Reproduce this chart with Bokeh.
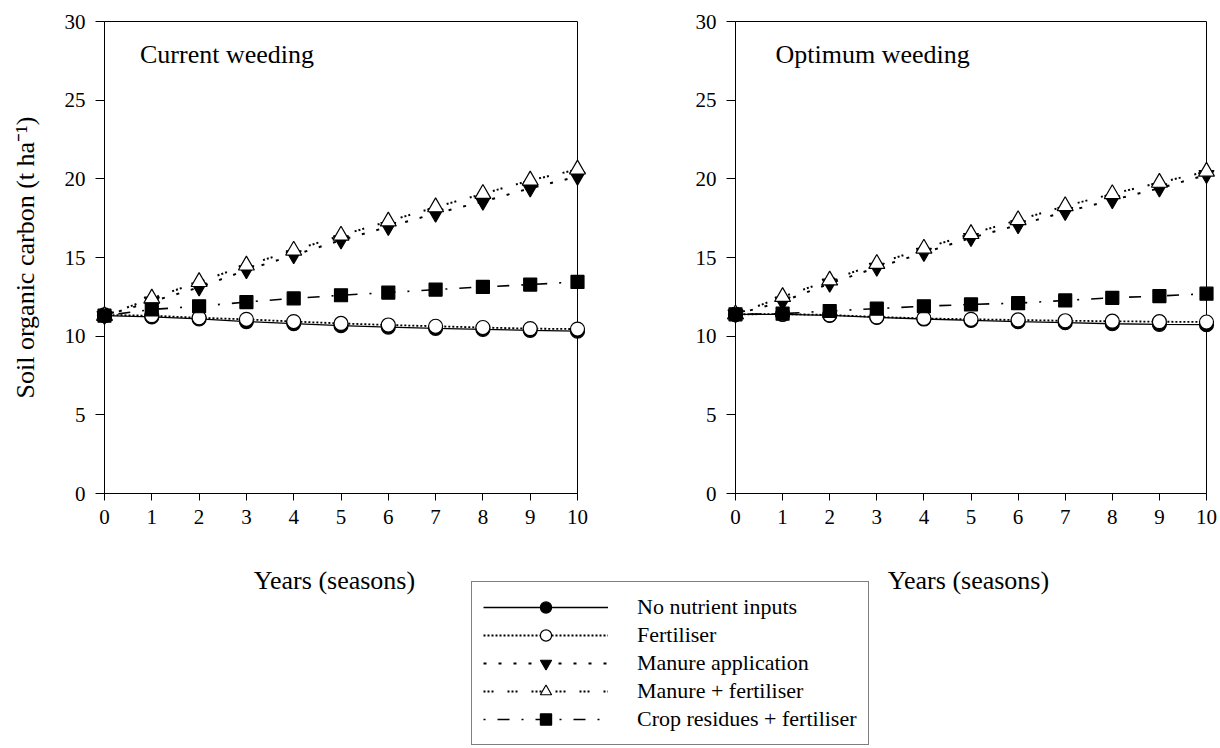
from bokeh.plotting import figure
from bokeh.layouts import column, row
from bokeh.models import Range1d, Label, Legend, LegendItem, FixedTicker
from bokeh.embed import file_html
from bokeh.resources import INLINE

# ---------------- data ----------------
years = [0, 1, 2, 3, 4, 5, 6, 7, 8, 9, 10]
x_ticks = [0, 1, 2, 3, 4, 5, 6, 7, 8, 9, 10]
y_ticks = [0, 5, 10, 15, 20, 25, 30]

series_names = ["No nutrient inputs", "Fertiliser", "Manure application",
                "Manure + fertiliser", "Crop residues + fertiliser"]

# Current weeding
cw_none = [11.30, 11.22, 11.10, 10.93, 10.80, 10.67, 10.58, 10.50, 10.43, 10.37, 10.32]
cw_fert = [11.35, 11.30, 11.17, 11.07, 10.93, 10.81, 10.71, 10.63, 10.55, 10.48, 10.45]
cw_manure = [11.30, 12.20, 13.10, 14.20, 15.15, 16.10, 16.95, 17.80, 18.55, 19.40, 20.15]
cw_manure_fert = [11.30, 12.40, 13.45, 14.50, 15.45, 16.40, 17.30, 18.20, 19.05, 19.90, 20.60]
cw_residue = [11.30, 11.70, 11.90, 12.17, 12.40, 12.60, 12.77, 12.96, 13.13, 13.28, 13.45]

# Optimum weeding
ow_none = [11.39, 11.39, 11.32, 11.20, 11.09, 11.00, 10.92, 10.86, 10.79, 10.75, 10.73]
ow_fert = [11.39, 11.40, 11.35, 11.22, 11.13, 11.07, 11.03, 10.98, 10.95, 10.92, 10.90]
ow_manure = [11.39, 12.20, 13.35, 14.36, 15.30, 16.25, 17.06, 17.90, 18.65, 19.40, 20.25]
ow_manure_fert = [11.39, 12.50, 13.55, 14.60, 15.57, 16.50, 17.38, 18.27, 19.04, 19.76, 20.46]
ow_residue = [11.39, 11.43, 11.60, 11.75, 11.90, 12.02, 12.10, 12.27, 12.44, 12.55, 12.70]

FONT = "Liberation Serif"

# style per series: marker, fill, dash, line width, marker size
styles = [
    ("circle", "black", "solid", 1.3, 14),
    ("circle", "white", "2 2", 1.8, 14),
    ("inverted_triangle", "black", "3 12", 2.0, 15),
    ("triangle", "white", "2 2 2 2 2 14", 2.0, 16),
    ("square", "black", "2 12 12 12", 1.6, 13),
]

TOP_H = 535
BOT_H = 748 - TOP_H


def panel(title, title_x, data, width, mbl, mbr, ylabel):
    p = figure(width=width, height=TOP_H, x_range=Range1d(0, 10), y_range=Range1d(0, 30),
               output_backend="svg", toolbar_location=None,
               min_border_left=mbl, min_border_right=mbr,
               min_border_top=21, min_border_bottom=TOP_H - 493)
    p.grid.visible = False
    p.outline_line_color = "black"
    p.outline_line_width = 1
    p.background_fill_color = "white"
    p.border_fill_color = "white"
    p.xaxis.ticker = FixedTicker(ticks=x_ticks)
    p.yaxis.ticker = FixedTicker(ticks=y_ticks)
    for ax in (p.xaxis, p.yaxis):
        ax.major_tick_in = 0
        ax.minor_tick_line_color = None
        ax.axis_line_color = "black"
        ax.major_tick_line_color = "black"
        ax.major_label_text_font = FONT
        ax.major_label_text_font_size = "21px"
        ax.major_label_text_color = "black"
    p.xaxis.major_tick_out = 7
    p.xaxis.major_label_standoff = 9
    p.yaxis.major_tick_out = 9
    p.yaxis.major_label_standoff = 10
    if ylabel:
        p.yaxis.axis_label = ylabel
        p.yaxis.axis_label_text_font = FONT
        p.yaxis.axis_label_text_font_size = "26px"
        p.yaxis.axis_label_text_font_style = "normal"
        p.yaxis.axis_label_text_color = "black"
        p.yaxis.axis_label_standoff = 22
    for ys, (marker, fill, dash, lw, size) in zip(data, styles):
        lr = p.line(years, ys, line_color="black", line_width=lw, line_dash=dash)
        sr = p.scatter(years, ys, marker=marker, size=size, fill_color=fill,
                       line_color="black", line_width=1.2)
        lr.level = "overlay"
        sr.level = "overlay"
    p.add_layout(Label(x=title_x, y=27.9, text=title, text_baseline="middle",
                       text_font=FONT, text_font_size="26px", text_color="black"))
    return p


left = panel("Current weeding", 0.75,
             [cw_none, cw_fert, cw_manure, cw_manure_fert, cw_residue],
             640, 104, 63, "Soil organic carbon (t ha\u207b\u00b9)")
right = panel("Optimum weeding", 0.85,
              [ow_none, ow_fert, ow_manure, ow_manure_fert, ow_residue],
              580, 95, 14, None)

# bottom strip: x-axis titles and legend
b = figure(width=1220, height=BOT_H, x_range=Range1d(0, 1220), y_range=Range1d(0, BOT_H),
           output_backend="svg", toolbar_location=None, min_border=0,
           x_axis_location=None, y_axis_location=None)
b.grid.visible = False
b.outline_line_color = None
for xc in (334, 968):
    b.add_layout(Label(x=xc, y=BOT_H - 45, text="Years (seasons)", text_align="center",
                       text_baseline="middle", text_font=FONT, text_font_size="26px",
                       text_color="black"))

items = []
for name, ys, (marker, fill, dash, lw, size) in zip(
        series_names, [cw_none, cw_fert, cw_manure, cw_manure_fert, cw_residue], styles):
    lr = b.line(years, ys, line_color="black", line_width=lw, line_dash=dash, visible=False)
    sr = b.scatter(years, ys, marker=marker, size=size, fill_color=fill,
                   line_color="black", line_width=1.2, visible=False)
    items.append(LegendItem(label=name, renderers=[lr, sr]))

LEG_H = 2 * 11 + 5 * 28
legend = Legend(items=items, location=(471, BOT_H - 48 - LEG_H), glyph_width=125,
                glyph_height=28, label_height=26, label_standoff=29, padding=11,
                spacing=0, margin=0, border_line_color="black", border_line_width=1.3,
                label_text_font=FONT, label_text_font_size="22px",
                label_text_color="black", background_fill_color="white",
                background_fill_alpha=1.0, click_policy="none")
b.add_layout(legend, "center")

layout = column(row(left, right), b)

open("out.html", "w").write(file_html(layout, INLINE))
